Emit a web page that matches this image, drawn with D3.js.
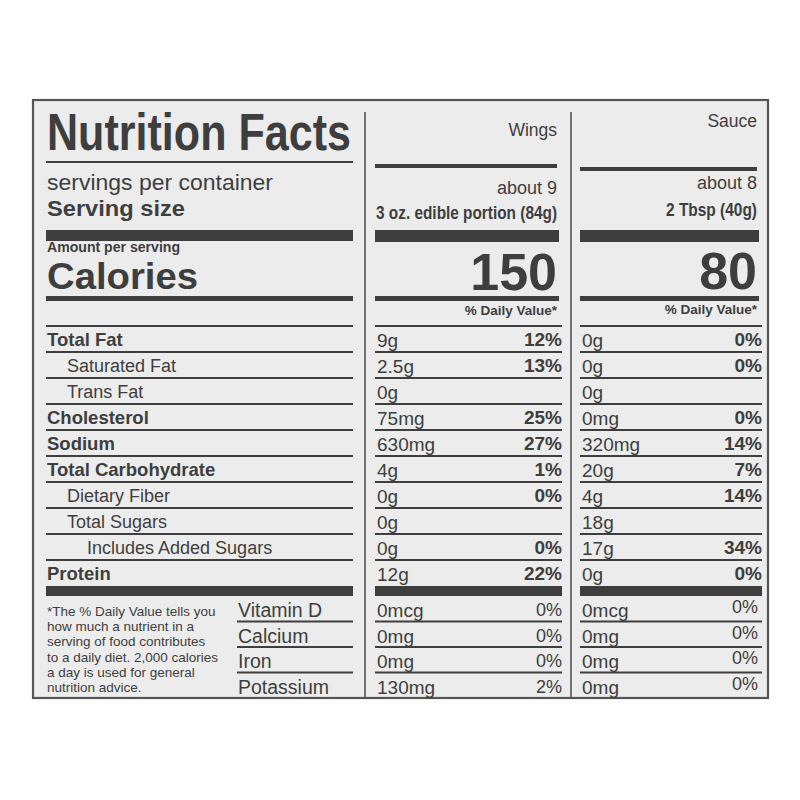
<!DOCTYPE html>
<html>
<head>
<meta charset="utf-8">
<script src="https://cdn.jsdelivr.net/npm/d3@7"></script>
<style>
  html, body { margin: 0; padding: 0; background: #ffffff; }
  svg { display: block; }
  text { font-family: "Liberation Sans", Arial, Helvetica, sans-serif; fill: #3e3e3e; }
</style>
</head>
<body>
<svg id="chart" width="800" height="800"></svg>
<script>
// ---------- data ----------
const title = "Nutrition Facts";
const products = ["Wings", "Sauce"];
const servingsPerContainer = ["about 9", "about 8"];
const servingSize = ["3 oz. edible portion (84g)", "2 Tbsp (40g)"];
const calories = [150, 80];

const nutrients = ["Total Fat", "Saturated Fat", "Trans Fat", "Cholesterol", "Sodium",
  "Total Carbohydrate", "Dietary Fiber", "Total Sugars", "Includes Added Sugars", "Protein"];
const nutrientIndent = [0, 1, 1, 0, 0, 0, 1, 1, 2, 0];
const wingsAmount = ["9g", "2.5g", "0g", "75mg", "630mg", "4g", "0g", "0g", "0g", "12g"];
const wingsDV = ["12%", "13%", "", "25%", "27%", "1%", "0%", "", "0%", "22%"];
const sauceAmount = ["0g", "0g", "0g", "0mg", "320mg", "20g", "4g", "18g", "17g", "0g"];
const sauceDV = ["0%", "0%", "", "0%", "14%", "7%", "14%", "", "34%", "0%"];

const vitamins = ["Vitamin D", "Calcium", "Iron", "Potassium"];
const wingsVitAmount = ["0mcg", "0mg", "0mg", "130mg"];
const wingsVitDV = ["0%", "0%", "0%", "2%"];
const sauceVitAmount = ["0mcg", "0mg", "0mg", "0mg"];
const sauceVitDV = ["0%", "0%", "0%", "0%"];

const footnote = ["*The % Daily Value tells you", "how much a nutrient in a",
  "serving of food contributes", "to a daily diet. 2,000 calories",
  "a day is used for general", "nutrition advice."];

// ---------- layout ----------
const ink = "#3e3e3e";
const svg = d3.select("#chart");
const box = { x0: 33, y0: 100, x1: 768, y1: 698 };
const left = { x0: 46, x1: 353 };
const cols = [
  { x0: 375, x1: 562, amtX: 377, headY: 136, headRule: 164, aboutY: 194, sizeY: 219, sizeW: 181, calY: 290, dvY: 315 },
  { x0: 580, x1: 762, amtX: 582, headY: 127, headRule: 167, aboutY: 189, sizeY: 216, sizeW: 91, calY: 289, dvY: 314 }
];
const dividers = [365, 571];

const yRow = d3.scaleBand().domain(nutrients).range([326, 586]).padding(0);
const yVit = d3.scaleBand().domain(vitamins).range([596, 698]).padding(0);
const xIndent = d3.scaleLinear().domain([0, 2]).range([47, 87]);
const yFoot = d3.scaleLinear().domain([0, 5]).range([616, 692]);

// label background
svg.append("rect").attr("x", box.x0).attr("y", box.y0)
  .attr("width", box.x1 - box.x0).attr("height", box.y1 - box.y0)
  .attr("fill", "#ececec").attr("stroke", "#555").attr("stroke-width", 2.2);

// column dividers
dividers.forEach(x => svg.append("line").attr("x1", x).attr("x2", x)
  .attr("y1", 112).attr("y2", box.y1).attr("stroke", "#555").attr("stroke-width", 1.6));

function bar(x0, x1, y, h) {
  svg.append("rect").attr("x", x0).attr("y", y).attr("width", x1 - x0).attr("height", h).attr("fill", ink);
}

// ---------- left column ----------
svg.append("text").attr("x", 47).attr("y", 150).text(title)
  .attr("font-size", 52).attr("font-weight", "bold")
  .attr("textLength", 304).attr("lengthAdjust", "spacingAndGlyphs");
bar(left.x0, left.x1, 161, 2);
svg.append("text").attr("x", 47).attr("y", 190).text("servings per container")
  .attr("font-size", 21.5).attr("textLength", 226).attr("lengthAdjust", "spacingAndGlyphs");
svg.append("text").attr("x", 47).attr("y", 216).text("Serving size")
  .attr("font-size", 21.5).attr("font-weight", "bold").attr("textLength", 138).attr("lengthAdjust", "spacingAndGlyphs");
bar(left.x0, left.x1, 230, 11);
svg.append("text").attr("x", 47).attr("y", 252).text("Amount per serving")
  .attr("font-size", 14).attr("font-weight", "bold").attr("textLength", 133).attr("lengthAdjust", "spacingAndGlyphs");
svg.append("text").attr("x", 47).attr("y", 289).text("Calories")
  .attr("font-size", 37).attr("font-weight", "bold").attr("textLength", 151).attr("lengthAdjust", "spacingAndGlyphs");
bar(left.x0, left.x1, 296, 5);

// nutrient rows (left labels)
const rowG = svg.append("g");
nutrients.forEach((n, i) => {
  const y = yRow(n);
  bar(left.x0, left.x1, y - 1, 2);
  rowG.append("text").attr("x", xIndent(nutrientIndent[i])).attr("y", y + 20).text(n)
    .attr("font-size", nutrientIndent[i] === 0 ? 18.5 : 18)
    .attr("font-weight", nutrientIndent[i] === 0 ? "bold" : "normal");
});
bar(left.x0, left.x1, 586, 10);

// vitamins (left)
vitamins.forEach((v, i) => {
  const y = yVit(v);
  if (i > 0) bar(237, left.x1, y - 1, 2);
  svg.append("text").attr("x", 238).attr("y", y + 21).text(v).attr("font-size", 19.5);
});
footnote.forEach((line, i) => {
  svg.append("text").attr("x", 47).attr("y", yFoot(i)).text(line).attr("font-size", 13.5);
});

// ---------- product columns ----------
const amounts = [wingsAmount, sauceAmount];
const dvs = [wingsDV, sauceDV];
const vitAmounts = [wingsVitAmount, sauceVitAmount];
const vitDVs = [wingsVitDV, sauceVitDV];

products.forEach((p, c) => {
  const col = cols[c];
  const rx = col.x1 - 5;
  svg.append("text").attr("x", rx).attr("y", col.headY).attr("text-anchor", "end")
    .text(p).attr("font-size", 17.5);
  bar(col.x0, rx, col.headRule, 4);
  svg.append("text").attr("x", rx).attr("y", col.aboutY).attr("text-anchor", "end")
    .text(servingsPerContainer[c]).attr("font-size", 18);
  svg.append("text").attr("x", rx).attr("y", col.sizeY).attr("text-anchor", "end")
    .text(servingSize[c]).attr("font-size", 19).attr("font-weight", "bold")
    .attr("textLength", col.sizeW).attr("lengthAdjust", "spacingAndGlyphs");
  bar(col.x0, col.x1 - 3, 230, 12);
  svg.append("text").attr("x", rx).attr("y", col.calY).attr("text-anchor", "end")
    .text(calories[c]).attr("font-size", 52).attr("font-weight", "bold");
  bar(col.x0, col.x1 - 3, 296, 5);
  svg.append("text").attr("x", rx).attr("y", col.dvY).attr("text-anchor", "end")
    .text("% Daily Value*").attr("font-size", 13.5).attr("font-weight", "bold");

  nutrients.forEach((n, i) => {
    const y = yRow(n);
    bar(col.x0, col.x1, y - 1, 2);
    svg.append("text").attr("x", col.amtX).attr("y", y + 21).text(amounts[c][i]).attr("font-size", 19);
    if (dvs[c][i]) {
      svg.append("text").attr("x", col.x1).attr("y", y + 20).attr("text-anchor", "end")
        .text(dvs[c][i]).attr("font-size", 19).attr("font-weight", "bold");
    }
  });
  bar(col.x0, col.x1, 586, 10);

  vitamins.forEach((v, i) => {
    const y = yVit(v);
    if (i > 0) bar(col.x0, col.x1, y - 1, 2);
    svg.append("text").attr("x", col.amtX).attr("y", y + 21).text(vitAmounts[c][i]).attr("font-size", 19);
    svg.append("text").attr("x", col.x1 - (c === 1 ? 4 : 0)).attr("y", y + 20 - (c === 1 ? 3 : 0))
      .attr("text-anchor", "end").text(vitDVs[c][i]).attr("font-size", 18);
  });
});
</script>
</body>
</html>
